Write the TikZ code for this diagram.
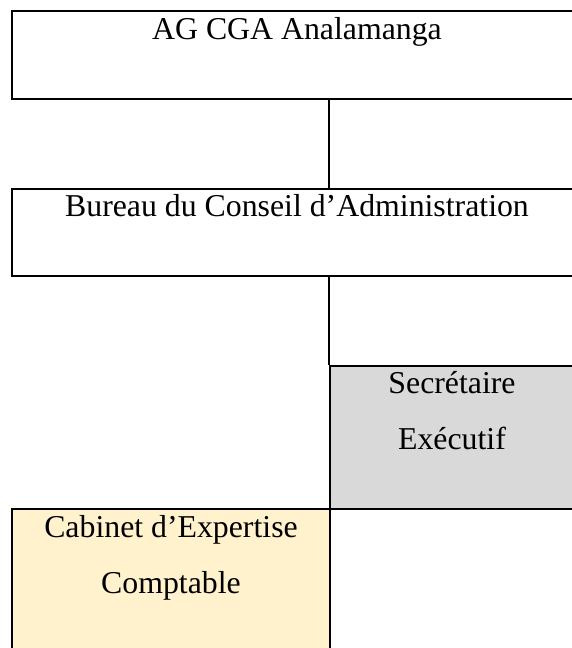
\documentclass[tikz,border=0pt]{standalone}
\usepackage{fontspec}
\setmainfont{Liberation Serif}
\usepackage{xcolor}
\usepackage{tikz}
\usetikzlibrary{positioning,calc}

\definecolor{secrgray}{HTML}{D9D9D9}
\definecolor{cabinetyellow}{HTML}{FFF2CC}

\tikzset{
    orgbox/.style={draw, line width=2.2pt, rectangle, inner sep=0pt, anchor=north, align=center},
    orgline/.style={line width=2.2pt}
}

\begin{document}
\begin{tikzpicture}[x=1pt, y=-1pt, font=\fontsize{31.8}{56}\selectfont]
    \useasboundingbox (0,0) rectangle (572,648);
    \clip (0,0) rectangle (572,648);

    % Boxes
    \node [orgbox, minimum width=570pt, text height=28pt, text depth=60pt] (agcga) at (297,10) {AG CGA Analamanga};
    \node [orgbox, minimum width=570pt, text height=27pt, text depth=60pt] (bureau) at (297,188) {Bureau du Conseil d’Administration};
    \node [orgbox, fill=secrgray, minimum width=244pt, text height=83pt, text depth=60pt] (secr) at (452,365) {Secrétaire\\Exécutif};
    \node [orgbox, fill=cabinetyellow, minimum width=318pt, text height=84pt, text depth=80pt] (cabinet) at (171,508) {Cabinet d’Expertise\\Comptable};

    % Links
    \draw [orgline] (agcga.south -| secr.west) -- (bureau.north -| secr.west);
    \draw [orgline] (bureau.south -| secr.west) -- (secr.north west);
\end{tikzpicture}
\end{document}
